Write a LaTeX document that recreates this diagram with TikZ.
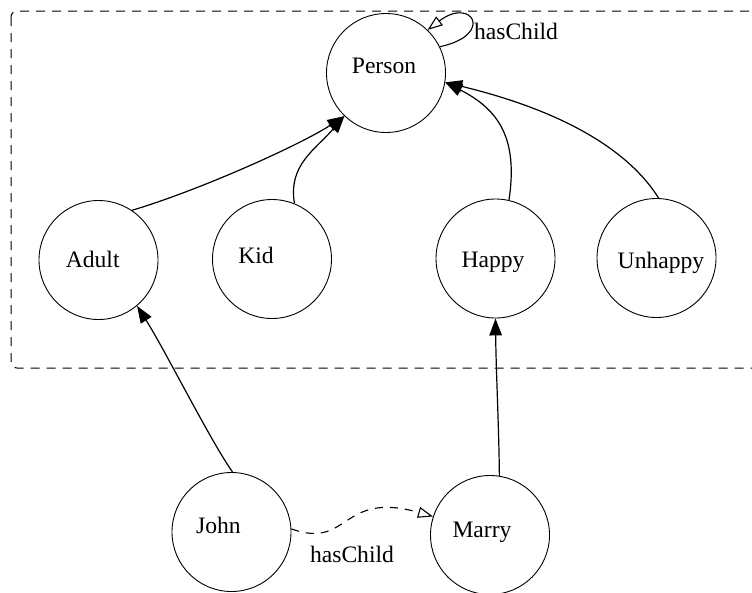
\documentclass[tikz,border=0pt]{standalone}
\usepackage{fontspec}
\setmainfont{Liberation Serif}
\usetikzlibrary{arrows.meta}

\tikzset{
  cls/.style={circle, draw=black, line width=0.9pt, minimum size=119pt, inner sep=0pt},
  lbl/.style={anchor=base, inner sep=0pt, font=\fontsize{23.6}{26}\selectfont},
  isa/.style={line width=1.2pt, -{Triangle[length=17pt,width=12.5pt]}},
  rel/.style={line width=1.1pt, -{Triangle[open,length=15pt,width=11pt,fill=white]}},
  grp/.style={draw=black, line width=1pt, dash pattern=on 9pt off 7pt, rounded corners=6pt}
}

\begin{document}
\begin{tikzpicture}[x=1pt,y=-1pt]
  \useasboundingbox (0,0) rectangle (752,592);
  \clip (0,0) rectangle (752,592);

  % grouping frame around the class hierarchy
  \draw[grp] (11,11) rectangle (790,368);

  % class and individual circles
  \node[cls] (person)  at (386,73) {};
  \node[cls] (adult)   at (98.5,260) {};
  \node[cls] (kid)     at (272,259) {};
  \node[cls] (happy)   at (495.5,258.5) {};
  \node[cls] (unhappy) at (656.5,258) {};
  \node[cls] (john)    at (231.5,532) {};
  \node[cls] (marry)   at (490,535) {};

  % names
  \node[lbl] (tperson)  at (384,73)    {Person};
  \node[lbl] (tadult)   at (92.7,267)  {Adult};
  \node[lbl] (tkid)     at (256,263)   {Kid};
  \node[lbl] (thappy)   at (493,267)   {Happy};
  \node[lbl] (tunhappy) at (661,268)   {Unhappy};
  \node[lbl] (tjohn)    at (218.5,533) {John};
  \node[lbl] (tmarry)   at (482,537)   {Marry};

  % subclass links
  \draw[isa] (adult.56) .. controls (200,190) and (300,145) .. (person.226);
  \draw[isa] (kid.68) .. controls (288,165) and (315,150) .. (person.226);
  \draw[isa] (happy.77) .. controls (518,140) and (500,110) .. (person.-9);
  \draw[isa] (unhappy.88) .. controls (635,160) and (580,115) .. (person.-9);

  % instance links
  \draw[isa] (john.89) .. controls (210,440) and (165,350) .. (adult.-50);
  \draw[isa] (marry.81) .. controls (499,430) and (496,370) .. (happy.-90);

  % hasChild relations
  \draw[rel] (person.26) .. controls (495,35) and (472,-4) .. (person.46);
  \node[lbl] (loopname) at (516,39) {hasChild};

  \draw[rel, dash pattern=on 8pt off 7pt] (john.3) .. controls (350,550) and (340,490) .. (marry.162);
  \node[lbl] (edgename) at (352,562) {hasChild};
\end{tikzpicture}
\end{document}
